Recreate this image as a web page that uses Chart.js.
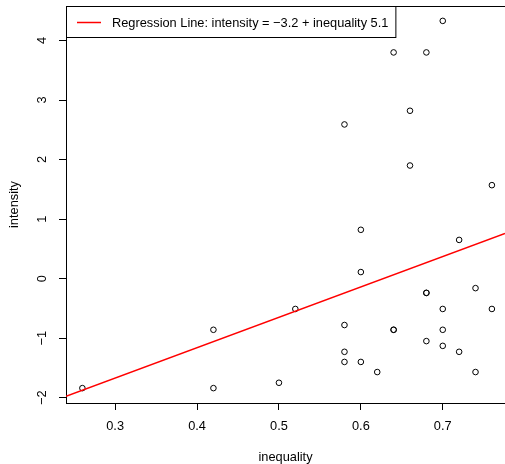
<!DOCTYPE html>
<html>
<head>
<meta charset="utf-8">
<script src="https://cdn.jsdelivr.net/npm/chart.js@4.4.1/dist/chart.umd.min.js"></script>
<style>
html, body { margin: 0; padding: 0; background: #fff; }
#wrap { width: 505px; height: 464px; }
</style>
</head>
<body>
<div id="wrap"><canvas id="cvs" width="505" height="464"></canvas></div>
<script>
// data
var inequality = [0.26, 0.42, 0.42, 0.50, 0.52, 0.58, 0.58, 0.58, 0.58, 0.60, 0.60, 0.60,
	0.62, 0.64, 0.64, 0.64, 0.66, 0.66, 0.68, 0.68, 0.68, 0.68, 0.70, 0.70, 0.70, 0.70,
	0.72, 0.72, 0.74, 0.74, 0.76, 0.76];
var intensity = [-1.84, -0.86, -1.84, -1.75, -0.51, 2.59, -0.78, -1.23, -1.40, 0.82, 0.11, -1.40,
	-1.57, 3.80, -0.86, -0.86, 2.82, 1.90, 3.80, -0.24, -0.24, -1.05, 4.33, -0.51, -0.86, -1.13,
	0.65, -1.23, -0.16, -1.57, 1.57, -0.51];
var xTicks = [0.3, 0.4, 0.5, 0.6, 0.7];
var yTicks = [-2, -1, 0, 1, 2, 3, 4];
var xRange = [0.24, 0.776];
var yRange = [-2.09, 4.58];
var intercept = -3.2;
var slope = 5.1;

var FONT = "Liberation Sans, Arial, Helvetica, sans-serif";
var FSIZE = 12.8;

function minus(v) {
	return v < 0 ? "\u2212" + Math.abs(v) : String(v);
}

var points = [];
for (var i = 0; i < inequality.length; i++) {
	points.push({x: inequality[i], y: intensity[i]});
}
var regLine = [
	{x: xRange[0], y: intercept + slope * xRange[0]},
	{x: xRange[1], y: intercept + slope * xRange[1]}
];
var regLabel = "Regression Line: intensity = " + minus(intercept) + " + inequality " + slope;

// top edge of the box + the legend inside the plot
var boxPlugin = {
	id: "rbox",
	afterDatasetsDraw: function(chart) {
		var ctx = chart.ctx;
		var a = chart.chartArea;
		ctx.save();
		ctx.strokeStyle = "#000";
		ctx.lineWidth = 1;
		ctx.beginPath();
		ctx.moveTo(a.left, a.top + 0.5);
		ctx.lineTo(a.right, a.top + 0.5);
		ctx.stroke();

		var ds = chart.data.datasets[1];
		ctx.font = FSIZE + "px " + FONT;
		var tw = ctx.measureText(ds.label).width;
		var bx = a.left + 0.5, by = a.top + 0.5;
		var bw = 46 + tw + 7, bh = 31;
		ctx.fillStyle = "#fff";
		ctx.fillRect(bx, by, bw, bh);
		ctx.strokeRect(bx, by, bw, bh);

		ctx.strokeStyle = ds.borderColor;
		ctx.lineWidth = ds.borderWidth;
		ctx.beginPath();
		ctx.moveTo(a.left + 11, a.top + 16.5);
		ctx.lineTo(a.left + 35, a.top + 16.5);
		ctx.stroke();

		ctx.fillStyle = "#000";
		ctx.textAlign = "left";
		ctx.textBaseline = "middle";
		ctx.fillText(ds.label, a.left + 46, a.top + 17.5);
		ctx.restore();
	}
};

function noPad(scale) {
	scale.paddingTop = 0;
	scale.paddingBottom = 0;
	scale.paddingLeft = 0;
	scale.paddingRight = 0;
}

var cvs = document.getElementById("cvs");
new Chart(cvs, {
	type: "scatter",
	data: {
		datasets: [
			{
				label: "points",
				data: points,
				order: 1,
				pointRadius: 2.8,
				pointBorderWidth: 1,
				pointBorderColor: "#000",
				pointBackgroundColor: "rgba(0,0,0,0)",
				pointHoverRadius: 2.8
			},
			{
				label: regLabel,
				data: regLine,
				order: 0,
				showLine: true,
				borderColor: "#ff0000",
				borderWidth: 1.5,
				pointRadius: 0
			}
		]
	},
	options: {
		responsive: false,
		maintainAspectRatio: false,
		devicePixelRatio: 1,
		animation: false,
		events: [],
		layout: {
			autoPadding: false,
			padding: {top: 6, left: 0, right: 0, bottom: 0}
		},
		plugins: {
			legend: {display: false},
			tooltip: {enabled: false},
			title: {display: false}
		},
		scales: {
			x: {
				type: "linear",
				min: xRange[0],
				max: xRange[1],
				afterBuildTicks: function(scale) {
					scale.ticks = xTicks.map(function(v) { return {value: v}; });
				},
				afterFit: function(scale) {
					scale.height = 61;
					noPad(scale);
				},
				grid: {
					display: true,
					drawOnChartArea: false,
					drawTicks: true,
					tickLength: 7,
					tickColor: "#000"
				},
				border: {display: true, color: "#000", width: 1},
				ticks: {
					color: "#000",
					padding: 9,
					maxRotation: 0,
					font: {family: FONT, size: FSIZE},
					callback: function(v) { return v.toFixed(1); }
				},
				title: {
					display: true,
					text: "inequality",
					color: "#000",
					font: {family: FONT, size: FSIZE, lineHeight: 1},
					padding: {top: 0, bottom: 0}
				}
			},
			y: {
				type: "linear",
				min: yRange[0],
				max: yRange[1],
				afterBuildTicks: function(scale) {
					scale.ticks = yTicks.map(function(v) { return {value: v}; });
				},
				afterFit: function(scale) {
					scale.width = 66;
					noPad(scale);
				},
				grid: {
					display: true,
					drawOnChartArea: false,
					drawTicks: true,
					tickLength: 7,
					tickColor: "#000"
				},
				border: {display: true, color: "#000", width: 1},
				ticks: {
					color: "#000",
					padding: 9,
					minRotation: 90,
					maxRotation: 90,
					crossAlign: "center",
					font: {family: FONT, size: FSIZE},
					callback: function(v) { return minus(v); }
				},
				title: {
					display: true,
					text: "intensity",
					color: "#000",
					font: {family: FONT, size: FSIZE},
					padding: {top: 7, bottom: 0}
				}
			}
		}
	},
	plugins: [boxPlugin]
});
</script>
</body>
</html>
